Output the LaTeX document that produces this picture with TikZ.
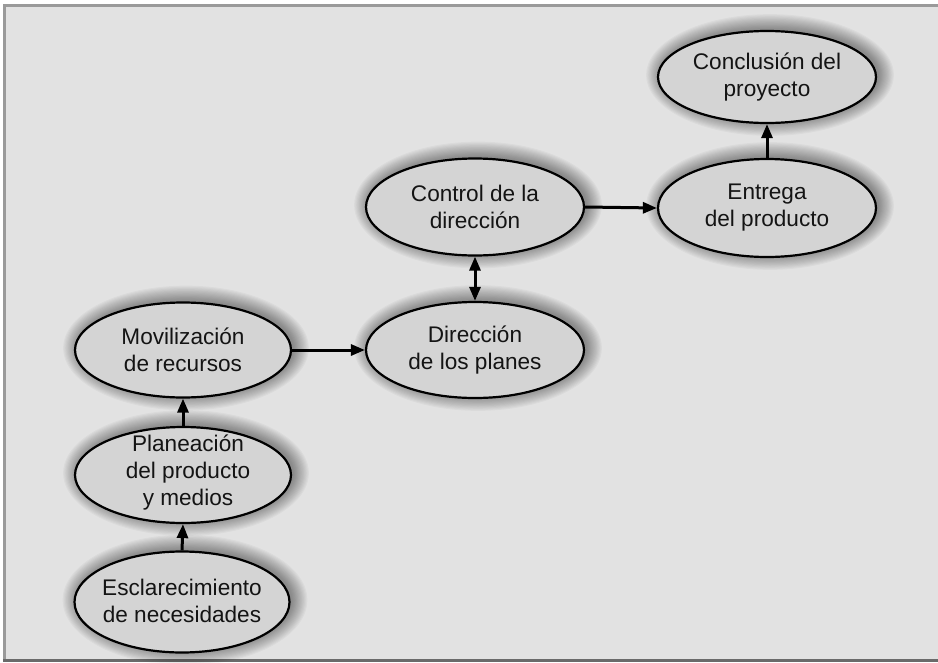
\documentclass[tikz,border=0pt]{standalone}
\usepackage{fontspec}
\setmainfont{Liberation Sans}
\usetikzlibrary{shapes.geometric,arrows.meta}
\definecolor{bgc}{HTML}{E2E2E2}
\definecolor{ellc}{HTML}{D4D4D4}
\definecolor{framec}{HTML}{9A9A9A}
\definecolor{framed}{HTML}{6A6A6A}
\definecolor{txtc}{HTML}{141414}
\tikzset{
  ell/.style={ellipse, draw=black, line width=2.2pt, fill=ellc, inner sep=0pt},
  lbl/.style={align=center, text=txtc, font=\fontsize{22.6}{27}\selectfont},
  conn/.style={line width=3pt, -{Triangle[length=14pt,width=11pt]}},
  dconn/.style={line width=3pt, {Triangle[length=14pt,width=11pt]}-{Triangle[length=14pt,width=11pt]}},
  shadowlayer/.style={fill=black, fill opacity=0.03}
}
\newcommand{\softshadow}[4]{%
  \foreach \k in {1,...,14} {
    \fill[shadowlayer] (#1+3,#2-2) ellipse [x radius={#3+16-\k*1.15}, y radius={#4+16-\k*1.15}];
  }%
}
\begin{document}
\begin{tikzpicture}[x=1pt,y=-1pt]
\useasboundingbox (0,0) rectangle (938,662);
\fill[white] (0,0) rectangle (938,662);
\fill[bgc] (3,4) rectangle (938,662);
\fill[framec] (3,4) rectangle (938,7);
\fill[framec] (3,4) rectangle (6,662);
\fill[framed] (3,659) rectangle (938,662);

\softshadow{767}{77}{109}{46}
\softshadow{767}{208}{109}{49}
\softshadow{475}{207}{109}{48.5}
\softshadow{475}{350}{109}{48}
\softshadow{183}{350}{108}{47.5}
\softshadow{183}{475}{108}{48}
\softshadow{182}{602}{107.5}{50.5}

\node[ell, minimum width=218pt, minimum height=92pt] (conc) at (767,77) {};
\node[ell, minimum width=218pt, minimum height=98pt] (entr) at (767,208) {};
\node[ell, minimum width=218pt, minimum height=97pt] (ctrl) at (475,207) {};
\node[ell, minimum width=218pt, minimum height=96pt] (dir) at (475,350) {};
\node[ell, minimum width=216pt, minimum height=95pt] (mov) at (183,350) {};
\node[ell, minimum width=216pt, minimum height=96pt] (plan) at (183,475) {};
\node[ell, minimum width=215pt, minimum height=101pt] (esc) at (182,602) {};

\node[lbl] (tconc) at (conc) {Conclusión del\\proyecto};
\node[lbl] (tentr) at (entr) {Entrega\\del producto};
\node[lbl] (tctrl) at (ctrl) {Control de la\\dirección};
\node[lbl] (tdir) at (dir) {Dirección\\de los planes};
\node[lbl] (tmov) at (mov) {Movilización\\de recursos};
\node[lbl] (tplan) at ([xshift=5pt,yshift=2pt]plan.center) {Planeación\\del producto\\y medios};
\node[lbl] (tesc) at ([yshift=1pt]esc.center) {Esclarecimiento\\de necesidades};

\draw[conn] (esc.north) -- (plan.south);
\draw[conn] (plan.north) -- (mov.south);
\draw[conn] (mov.east) -- (dir.west);
\draw[dconn] (ctrl.south) -- (dir.north);
\draw[conn] (ctrl.east) -- (entr.west);
\draw[conn] (entr.north) -- (conc.south);
\end{tikzpicture}
\end{document}
